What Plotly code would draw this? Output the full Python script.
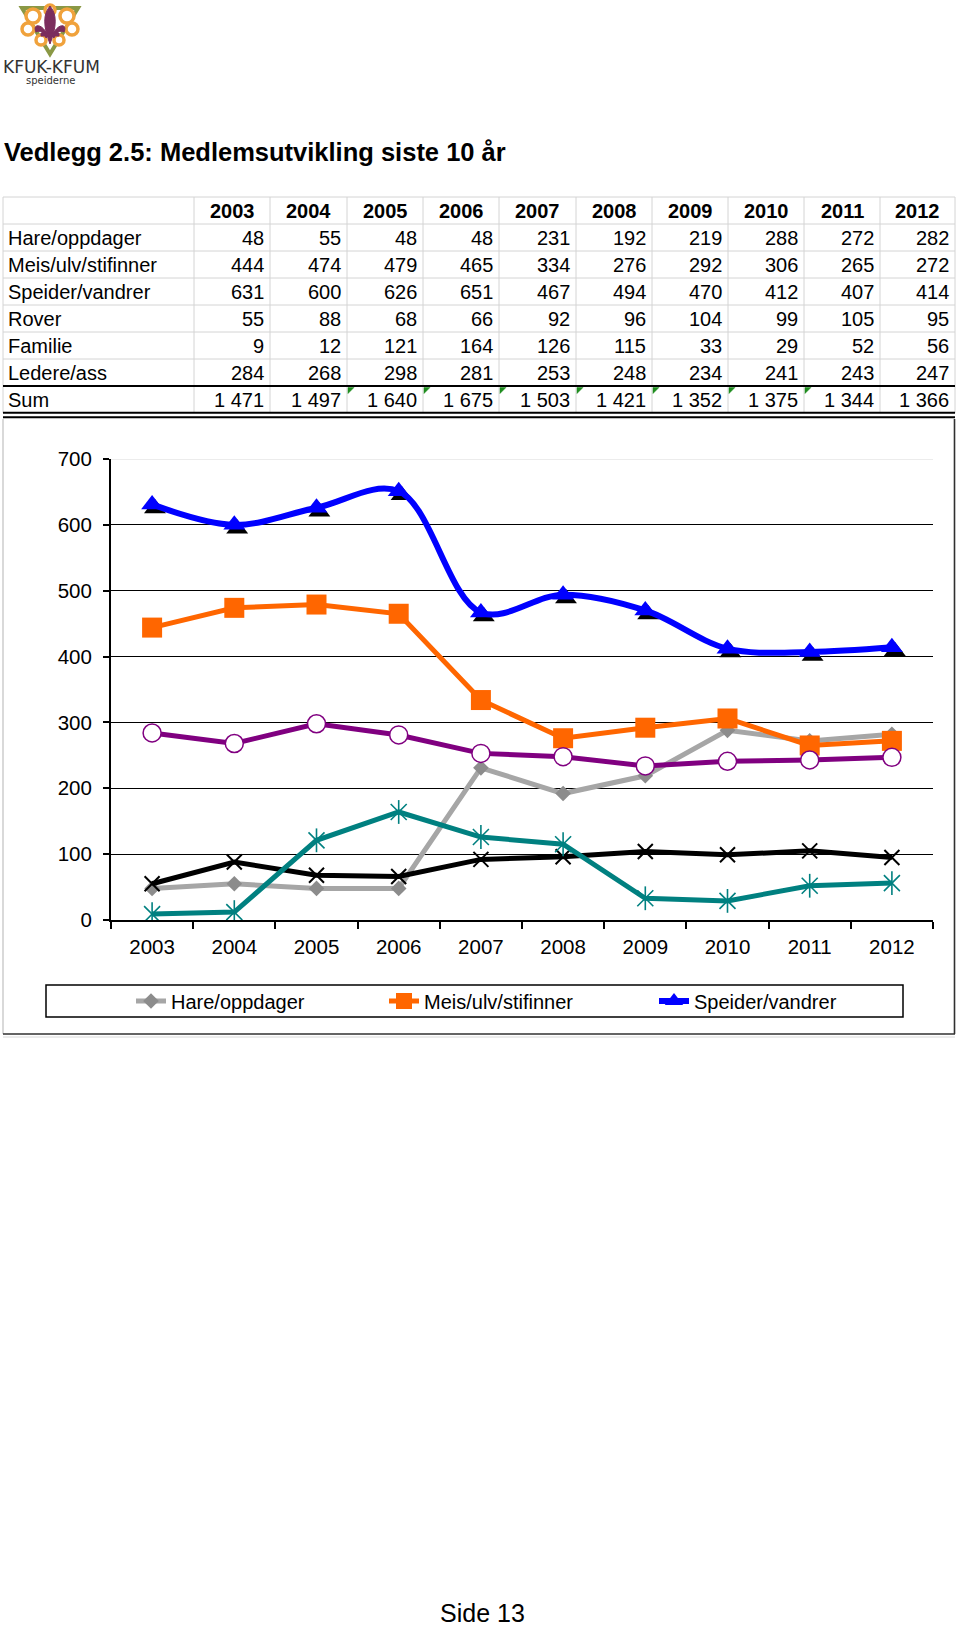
import plotly.graph_objects as go

W, H = 960, 1632

years = ["2003", "2004", "2005", "2006", "2007", "2008", "2009", "2010", "2011", "2012"]
hare = [48, 55, 48, 48, 231, 192, 219, 288, 272, 282]
meis = [444, 474, 479, 465, 334, 276, 292, 306, 265, 272]
speider = [631, 600, 626, 651, 467, 494, 470, 412, 407, 414]
rover = [55, 88, 68, 66, 92, 96, 104, 99, 105, 95]
familie = [9, 12, 121, 164, 126, 115, 33, 29, 52, 56]
ledere = [284, 268, 298, 281, 253, 248, 234, 241, 243, 247]
row_labels = ["Hare/oppdager", "Meis/ulv/stifinner", "Speider/vandrer",
              "Rover", "Familie", "Ledere/ass", "Sum"]
y_ticks = [0, 100, 200, 300, 400, 500, 600, 700]
title_text = "Vedlegg 2.5: Medlemsutvikling siste 10 år"
page_text = "Side 13"

FONT = "Liberation Sans, Arial, sans-serif"


def px(x):
    return x / W


def py(y):
    return 1 - y / H


def path(cmds):
    out = []
    for c, pts in cmds:
        coords = []
        for i in range(0, len(pts), 2):
            coords.append(f"{px(pts[i]):.5f},{py(pts[i + 1]):.5f}")
        out.append(c + " ".join(coords))
    return " ".join(out)


shapes = []
annotations = []


def hline(x0, x1, y, color, width):
    shapes.append(dict(type="line", xref="paper", yref="paper", x0=px(x0), x1=px(x1),
                       y0=py(y), y1=py(y), line=dict(color=color, width=width)))


def vline(x, y0, y1, color, width):
    shapes.append(dict(type="line", xref="paper", yref="paper", x0=px(x), x1=px(x),
                       y0=py(y0), y1=py(y1), line=dict(color=color, width=width)))


# ---------------- Logo ----------------
olive = "#8A9845"
orange_l = "#F0A23C"
purple_l = "#7B2D5E"
shapes.append(dict(type="path", xref="paper", yref="paper",
                   path=path([("M", [22, 8]), ("L", [78, 8]), ("L", [50, 54]), ("Z", [])]),
                   line=dict(color=olive, width=4), fillcolor="rgba(0,0,0,0)"))
for cx, cy, r in [(33, 16, 7), (67, 16, 7), (28, 29, 6), (72, 29, 6), (41, 40, 5), (59, 40, 5), (50, 10, 5)]:
    shapes.append(dict(type="circle", xref="paper", yref="paper",
                       x0=px(cx - r), x1=px(cx + r), y0=py(cy - r), y1=py(cy + r),
                       line=dict(color=orange_l, width=3.5), fillcolor="white"))
shapes.append(dict(type="path", xref="paper", yref="paper",
                   path=path([("M", [50, 6]), ("C", [57, 14, 57, 26, 50, 44]),
                              ("C", [43, 26, 43, 14, 50, 6]), ("Z", [])]),
                   line=dict(color=purple_l, width=1), fillcolor=purple_l))
shapes.append(dict(type="path", xref="paper", yref="paper",
                   path=path([("M", [48, 36]), ("C", [42, 22, 32, 24, 36, 32]),
                              ("C", [40, 30, 44, 32, 46, 38]), ("Z", [])]),
                   line=dict(color=purple_l, width=1), fillcolor=purple_l))
shapes.append(dict(type="path", xref="paper", yref="paper",
                   path=path([("M", [52, 36]), ("C", [58, 22, 68, 24, 64, 32]),
                              ("C", [60, 30, 56, 32, 54, 38]), ("Z", [])]),
                   line=dict(color=purple_l, width=1), fillcolor=purple_l))
shapes.append(dict(type="rect", xref="paper", yref="paper",
                   x0=px(41), x1=px(59), y0=py(36), y1=py(33),
                   line=dict(color=purple_l, width=1), fillcolor=purple_l))
annotations.append(dict(x=px(51), y=py(67), xref="paper", yref="paper", text="KFUK-KFUM",
                        showarrow=False, xanchor="center", yanchor="middle",
                        font=dict(family="DejaVu Sans, sans-serif", size=17, color="#333333")))
annotations.append(dict(x=px(50), y=py(80), xref="paper", yref="paper", text="speiderne",
                        showarrow=False, xanchor="center", yanchor="middle",
                        font=dict(family="DejaVu Sans, sans-serif", size=10, color="#333333")))

# ---------------- Title ----------------
annotations.append(dict(x=px(2), y=py(152), xref="paper", yref="paper",
                        text=f"<b>{title_text}</b>", showarrow=False,
                        xanchor="left", yanchor="middle",
                        font=dict(family=FONT, size=25.5, color="black")))

# ---------------- Table ----------------
col_edges = [3, 194, 270, 347, 423, 499, 576, 652, 728, 804, 880, 955]
row_edges = [197, 224, 251, 278, 305, 332, 359, 386, 413]
grid_c = "#D4D4D4"
tfont = dict(family=FONT, size=20, color="black")

series_tbl = [hare, meis, speider, rover, familie, ledere]
sums = [sum(s[i] for s in series_tbl) for i in range(len(years))]


def fmt(v):
    return f"{v:,}".replace(",", " ")


for y in row_edges[:-2]:
    hline(col_edges[0], col_edges[-1], y, grid_c, 1)
for x in col_edges:
    vline(x, row_edges[0], row_edges[-1], grid_c, 1)
hline(col_edges[0], col_edges[-1], 386, "black", 2.2)
hline(col_edges[0], col_edges[-1], 412.7, "black", 2)
hline(col_edges[0], col_edges[-1], 417.3, "black", 2)

for j, yr in enumerate(years):
    cx = (col_edges[j + 1] + col_edges[j + 2]) / 2
    cy = (row_edges[0] + row_edges[1]) / 2
    annotations.append(dict(x=px(cx), y=py(cy), xref="paper", yref="paper",
                            text=f"<b>{yr}</b>", showarrow=False,
                            xanchor="center", yanchor="middle", font=tfont))

rows_vals = series_tbl + [sums]
for i, (lab, vals) in enumerate(zip(row_labels, rows_vals)):
    cy = (row_edges[i + 1] + row_edges[i + 2]) / 2 + 0.5
    annotations.append(dict(x=px(6), y=py(cy), xref="paper", yref="paper",
                            text=lab, showarrow=False,
                            xanchor="left", yanchor="middle", font=tfont))
    for j, v in enumerate(vals):
        annotations.append(dict(x=px(col_edges[j + 2] - 4), y=py(cy), xref="paper", yref="paper",
                                text=fmt(v), showarrow=False,
                                xanchor="right", yanchor="middle", font=tfont))

# green error indicators (Sum row, 2005-2011)
for j in range(2, 9):
    x0 = col_edges[j + 1] + 1
    y0 = 387.5
    shapes.append(dict(type="path", xref="paper", yref="paper",
                       path=path([("M", [x0, y0]), ("L", [x0 + 6, y0]), ("L", [x0, y0 + 6]), ("Z", [])]),
                       line=dict(color="#1E8C1E", width=0.5), fillcolor="#1E8C1E"))

# ---------------- Chart frame ----------------
vline(3, 419, 1034, "#C0C0C0", 1.2)
vline(954.5, 419, 1034, "#303030", 1.6)
hline(3, 955, 1034, "#303030", 1.6)
hline(3, 955, 1037, "#D8D8D8", 1)

# legend box
shapes.append(dict(type="rect", xref="paper", yref="paper",
                   x0=px(46), x1=px(903), y0=py(1017), y1=py(985),
                   line=dict(color="black", width=1.5), fillcolor="rgba(0,0,0,0)"))

# top gridline (light grey at 700)
shapes.append(dict(type="line", xref="x domain", yref="y", x0=0, x1=1, y0=700, y1=700,
                   line=dict(color="white", width=3)))
shapes.append(dict(type="line", xref="x domain", yref="y", x0=0, x1=1, y0=700, y1=700,
                   line=dict(color="#D9D9D9", width=1.2)))

# page number
annotations.append(dict(x=px(482), y=py(1613), xref="paper", yref="paper",
                        text=page_text, showarrow=False, xanchor="center", yanchor="middle",
                        font=dict(family=FONT, size=25, color="black")))

# ---------------- Traces ----------------
xi = list(range(len(years)))
fig = go.Figure()

fig.add_trace(go.Scatter(x=xi, y=hare, name="Hare/oppdager", mode="lines+markers",
                         legend="legend",
                         line=dict(color="#A6A6A6", width=5),
                         marker=dict(symbol="diamond", size=12, color="#8C8C8C")))
fig.add_trace(go.Scatter(x=xi, y=meis, name="Meis/ulv/stifinner", mode="lines+markers",
                         legend="legend2",
                         line=dict(color="#FF6600", width=5),
                         marker=dict(symbol="square", size=20, color="#FF6600")))
fig.add_trace(go.Scatter(x=[v + 0.035 for v in xi], y=[v - 6 for v in speider],
                         mode="markers", showlegend=False, hoverinfo="skip",
                         marker=dict(symbol="triangle-up", size=19, color="black")))
fig.add_trace(go.Scatter(x=xi, y=speider, name="Speider/vandrer", mode="lines+markers",
                         legend="legend3",
                         line=dict(color="#0000FF", width=6, shape="spline", smoothing=1.0),
                         marker=dict(symbol="triangle-up", size=19, color="#0000FF")))
fig.add_trace(go.Scatter(x=xi, y=rover, name="Rover", mode="lines+markers", showlegend=False,
                         line=dict(color="black", width=5),
                         marker=dict(symbol="x-thin-open", size=15, color="black",
                                     line=dict(color="black", width=2))))
fig.add_trace(go.Scatter(x=xi, y=familie, name="Familie", mode="lines+markers", showlegend=False,
                         line=dict(color="#008080", width=5),
                         marker=dict(symbol="x-thin-open", size=16, color="#008080",
                                     line=dict(color="#008080", width=1.6))))
fig.add_trace(go.Scatter(x=xi, y=familie, name="Familie", mode="markers", showlegend=False,
                         marker=dict(symbol="line-ns-open", size=17, color="#008080",
                                     line=dict(color="#008080", width=1.6))))
fig.add_trace(go.Scatter(x=xi, y=ledere, name="Ledere/ass", mode="lines+markers", showlegend=False,
                         line=dict(color="#800080", width=5),
                         marker=dict(symbol="circle", size=18, color="white",
                                     line=dict(color="#800080", width=1.5))))

boundaries = [v - 0.5 for v in xi] + [xi[-1] + 0.5]


def leg(xpix):
    return dict(orientation="h", x=px(xpix), y=py(1001), xanchor="left", yanchor="middle",
                bgcolor="rgba(0,0,0,0)", borderwidth=0,
                font=dict(family=FONT, size=20, color="black"), itemclick=False)


fig.update_layout(
    width=W, height=H,
    margin=dict(l=0, r=0, t=0, b=0, pad=0, autoexpand=False),
    paper_bgcolor="white", plot_bgcolor="white",
    font=dict(family=FONT, size=20, color="black"),
    showlegend=True,
    legend=leg(131),
    legend2=leg(384),
    legend3=leg(654),
    xaxis=dict(domain=[px(111), px(933)], range=[-0.5, 9.5],
               tickmode="array", tickvals=xi, ticktext=years, ticks="",
               showgrid=False, zeroline=False,
               showline=True, linecolor="black", linewidth=2,
               ticklabelstandoff=7,
               tickfont=dict(family=FONT, size=20.5, color="black"),
               minor=dict(tickmode="array", tickvals=boundaries, ticks="outside",
                          ticklen=7, tickwidth=1.5, tickcolor="black", showgrid=False),
               fixedrange=True),
    yaxis=dict(domain=[py(920), py(459)], range=[0, 700],
               tickmode="array", tickvals=y_ticks, ticks="outside", ticklen=6,
               tickwidth=1.5, tickcolor="black",
               showgrid=True, gridcolor="black", gridwidth=1.3, zeroline=False,
               showline=True, linecolor="black", linewidth=2,
               ticklabelstandoff=7,
               tickfont=dict(family=FONT, size=20.5, color="black"),
               fixedrange=True),
    shapes=shapes,
    annotations=annotations,
    hovermode=False,
)

fig.write_html("out.html", config={"displayModeBar": False},
               post_script="document.body.style.margin='0';")
